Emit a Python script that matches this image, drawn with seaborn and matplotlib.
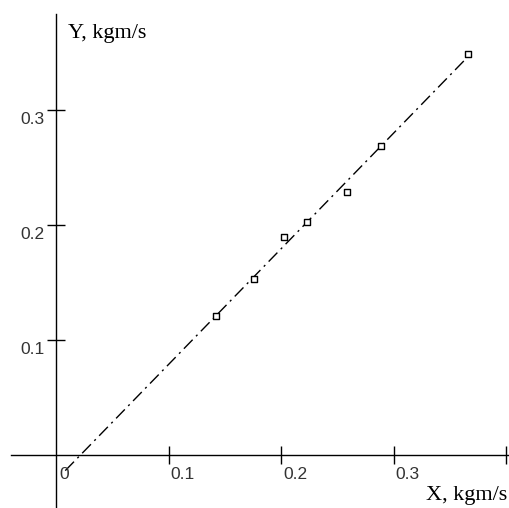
import numpy as np
import pandas as pd
import matplotlib
matplotlib.use("Agg")
import matplotlib.pyplot as plt
from matplotlib.transforms import offset_copy
import seaborn as sns

# Measured momentum pairs
x_vals = [0.142, 0.176, 0.202, 0.223, 0.258, 0.289, 0.366]
y_vals = [0.121, 0.153, 0.190, 0.203, 0.229, 0.269, 0.349]

x_ticks = [0.1, 0.2, 0.3, 0.4]
y_ticks = [0.1, 0.2, 0.3]
x_tick_labels = ["0.1", "0.2", "0.3", "0.4"]
y_tick_labels = ["0.1", "0.2", "0.3"]
x_label = "X, kgm/s"
y_label = "Y, kgm/s"

# Straight-line fit drawn over the span of the trend
fit_span = [0.008, 0.366]

sns.set_theme(style="white")
plt.rcParams["font.family"] = ["Liberation Sans", "DejaVu Sans"]

fig = plt.figure(figsize=(5.09, 5.08), dpi=100)
ax = fig.add_axes([0, 0, 1, 1])
ax.set_facecolor("white")
fig.patch.set_facecolor("white")

ax.set_xlim(-0.0500, 0.4024)
ax.set_ylim(-0.0461, 0.3957)

slope, intercept = np.polyfit(x_vals, y_vals, 1)
fit_x = np.array(fit_span)
fit_df = pd.DataFrame({"x": fit_x, "y": slope * fit_x + intercept})
line = sns.lineplot(data=fit_df, x="x", y="y", ax=ax, color="black",
                    linewidth=1.0, zorder=2)
ax.lines[-1].set_dashes([9, 3.5, 1.5, 3.5])

pts = pd.DataFrame({"x": x_vals, "y": y_vals})
sns.scatterplot(data=pts, x="x", y="y", ax=ax, marker="s", s=14,
                facecolor="white", edgecolor="black", linewidth=1.0, zorder=3)

# Cross-shaped axes through the origin
for side in ["top", "right"]:
    ax.spines[side].set_visible(False)
ax.spines["left"].set_position(("data", 0))
ax.spines["bottom"].set_position(("data", 0))
ax.spines["left"].set_bounds(-0.0461, 0.3835)
ax.spines["bottom"].set_bounds(-0.0403, 0.4024)
for side in ["left", "bottom"]:
    ax.spines[side].set_color("black")
    ax.spines[side].set_linewidth(1.0)

ax.set_xticks(x_ticks)
ax.set_yticks(y_ticks)
ax.tick_params(axis="both", direction="inout", length=13, width=1.0,
               color="black", labelbottom=False, labelleft=False,
               bottom=True, left=True)
ax.set_xlabel("")
ax.set_ylabel("")

tick_font = dict(fontsize=12.5, color="#333333", family=["Liberation Sans", "DejaVu Sans"])
xlab_tr = offset_copy(ax.transData, fig=fig, x=2, y=-12, units="dots")
for xv, lab in zip(x_ticks, x_tick_labels):
    ax.text(xv, 0, lab, transform=xlab_tr, ha="left", va="top", **tick_font)
ax.text(0, 0, "0", transform=offset_copy(ax.transData, fig=fig, x=3, y=-12, units="dots"),
        ha="left", va="top", **tick_font)

ylab_tr = offset_copy(ax.transData, fig=fig, x=-12, y=-2, units="dots")
for yv, lab in zip(y_ticks, y_tick_labels):
    ax.text(0, yv, lab, transform=ylab_tr, ha="right", va="top", **tick_font)

label_font = dict(fontsize=16, color="black", family=["Liberation Serif", "DejaVu Serif"])
fig.text(68 / 509, 1 - 38 / 508, y_label, ha="left", va="baseline", **label_font)
fig.text(507 / 509, 1 - 500 / 508, x_label, ha="right", va="baseline", **label_font)

fig.savefig("out.png", dpi=100)
